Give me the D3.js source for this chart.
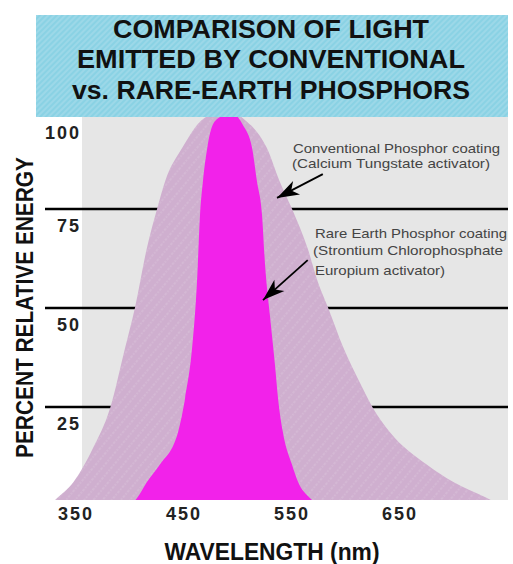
<!DOCTYPE html>
<html><head><meta charset="utf-8">
<script src="https://cdn.jsdelivr.net/npm/d3@7"></script>
<style>html,body{margin:0;padding:0;background:#fff;} svg{display:block;}</style>
</head><body>
<svg id="chart" width="513" height="564"></svg>
<script>
// ---- data ----
const titleLines = ["COMPARISON OF LIGHT", "EMITTED BY CONVENTIONAL", "vs. RARE-EARTH PHOSPHORS"];
const xTicks = [350, 450, 550, 650];
const yTicks = [25, 50, 75, 100];
const gridValues = [25, 50, 75];
const xLabel = "WAVELENGTH (nm)";
const yLabel = "PERCENT RELATIVE ENERGY";

const conventionalWavelength = [325, 333, 348, 366, 382, 396, 405, 416, 425.5, 433, 449, 467, 490, 509, 513, 527, 539, 550.5, 565, 574.5, 584, 598, 613, 625.5, 641, 675.5, 699.5, 731, 745];
const conventionalEnergy     = [0,   2,   6,   14.5, 24.7, 40, 50, 65, 75, 82, 90.5, 97.5, 100, 97, 96, 90.5, 82, 75, 65, 56.5, 50, 40, 31.3, 24.7, 18.7, 10.4, 6.1, 2, 0];

const rareEarthWavelength = [400, 407, 416, 428, 445, 451.5, 458, 462.5, 465.3, 468, 472, 477, 484, 493, 505, 513.5, 518, 522.7, 525.5, 530, 534.7, 537.5, 542, 550.5, 556, 567, 578];
const rareEarthEnergy     = [0,   2,   6,   10.4, 18.7, 27.3, 40, 56.6, 73.5, 82, 90.4, 96.2, 98.3, 99.5, 96.2, 90.4, 82, 73.5, 61, 48.2, 35.6, 27.3, 18.7, 10.4, 6.1, 2, 0];

const conventionalNote = ["Conventional Phosphor coating", "(Calcium Tungstate activator)"];
const rareEarthNote = ["Rare Earth Phosphor coating", "(Strontium Chlorophosphate", "Europium activator)"];

// ---- layout ----
const svg = d3.select("#chart");
const plot = {left: 82, right: 508, top: 117, bottom: 500};
const x = d3.scaleLinear().domain([350, 650]).range([75.5, 399.5]);
const y = d3.scaleLinear().domain([0, 100]).range([506, 110]);

const defs = svg.append("defs");
defs.append("clipPath").attr("id", "plotClip")
  .append("rect").attr("x", 0).attr("y", plot.top).attr("width", 513).attr("height", plot.bottom - plot.top);

const hatch = defs.append("pattern").attr("id", "titleHatch")
  .attr("patternUnits", "userSpaceOnUse").attr("width", 4).attr("height", 4)
  .attr("patternTransform", "rotate(-45)");
hatch.append("rect").attr("width", 4).attr("height", 4).attr("fill", "#8ad2e4");
hatch.append("line").attr("x1", 0).attr("y1", 1).attr("x2", 4).attr("y2", 1)
  .attr("stroke", "#a9dcec").attr("stroke-width", 1.2);

const dots = defs.append("pattern").attr("id", "convHatch")
  .attr("patternUnits", "userSpaceOnUse").attr("width", 7).attr("height", 7)
  .attr("patternTransform", "rotate(-50)");
dots.append("rect").attr("width", 7).attr("height", 7).attr("fill", "#cfafcf");
dots.append("line").attr("x1", 0).attr("y1", 1).attr("x2", 7).attr("y2", 1)
  .attr("stroke", "#dcc6dc").attr("stroke-width", 0.8).attr("stroke-dasharray", "1.5,1.5");

defs.append("marker").attr("id", "arrowHead")
  .attr("viewBox", "-24 -8 26 16").attr("refX", 0).attr("refY", 0)
  .attr("markerWidth", 26).attr("markerHeight", 16).attr("markerUnits", "userSpaceOnUse")
  .attr("orient", "auto")
  .append("path").attr("d", "M0,0 L-22,-7.5 L-16,0 L-22,7.5 Z").attr("fill", "#000");

// background
svg.append("rect").attr("x", plot.left).attr("y", plot.top)
  .attr("width", plot.right - plot.left).attr("height", plot.bottom - plot.top)
  .attr("fill", "#e6e6e6");

// gridlines (under fills)
svg.append("g").selectAll("line").data(gridValues).join("line")
  .attr("x1", 45).attr("x2", plot.right)
  .attr("y1", d => y(d)).attr("y2", d => y(d))
  .attr("stroke", "#000").attr("stroke-width", 2.6);

// areas
const area = d3.area().x(d => x(d[0])).y0(y(0)).y1(d => y(d[1])).curve(d3.curveMonotoneX);
const convData = conventionalWavelength.map((w, i) => [w, conventionalEnergy[i]]);
const rareData = rareEarthWavelength.map((w, i) => [w, rareEarthEnergy[i]]);
const areas = svg.append("g").attr("clip-path", "url(#plotClip)");
areas.append("path").datum(convData).attr("d", area).attr("fill", "url(#convHatch)");
areas.append("path").datum(rareData).attr("d", area).attr("fill", "#f222ea");

// title box
svg.append("rect").attr("x", 36).attr("y", 15).attr("width", 472).attr("height", 102)
  .attr("fill", "url(#titleHatch)");
const titleBase = [38, 68, 99];
const titleLen = [316, 388, 398];
svg.append("g").selectAll("text").data(titleLines).join("text")
  .attr("x", 271).attr("y", (d, i) => titleBase[i])
  .attr("text-anchor", "middle")
  .attr("font-family", "Liberation Sans, Arial, sans-serif")
  .attr("font-weight", "bold").attr("font-size", 25)
  .attr("textLength", (d, i) => titleLen[i]).attr("lengthAdjust", "spacingAndGlyphs")
  .attr("fill", "#111").text(d => d);

// x axis
const xAxis = svg.append("g").attr("transform", `translate(0,${plot.bottom})`)
  .call(d3.axisBottom(x).tickValues(xTicks).tickSize(0).tickPadding(20).tickFormat(d3.format("d")));
xAxis.select(".domain").remove();
xAxis.selectAll("text")
  .attr("font-family", "Liberation Sans, Arial, sans-serif")
  .attr("font-weight", "bold").attr("font-size", 18).attr("fill", "#222")
  .attr("letter-spacing", 2).attr("dy", 0);

// y axis labels (below each line)
const yAxis = svg.append("g").attr("transform", `translate(81,0)`)
  .call(d3.axisLeft(y).tickValues(yTicks).tickSize(0).tickPadding(0).tickFormat(d3.format("d")));
yAxis.select(".domain").remove();
yAxis.selectAll("text")
  .attr("font-family", "Liberation Sans, Arial, sans-serif")
  .attr("font-weight", "bold").attr("font-size", 18).attr("fill", "#222")
  .attr("letter-spacing", 2)
  .attr("dy", d => d === 100 ? 28 : 22);

// axis titles
svg.append("text").attr("x", 272).attr("y", 560)
  .attr("text-anchor", "middle")
  .attr("font-family", "Liberation Sans, Arial, sans-serif")
  .attr("font-weight", "bold").attr("font-size", 23)
  .attr("textLength", 215).attr("lengthAdjust", "spacingAndGlyphs")
  .attr("fill", "#111").text(xLabel);
svg.append("text").attr("transform", "translate(33,307.5) rotate(-90)")
  .attr("text-anchor", "middle")
  .attr("font-family", "Liberation Sans, Arial, sans-serif")
  .attr("font-weight", "bold").attr("font-size", 23)
  .attr("textLength", 301).attr("lengthAdjust", "spacingAndGlyphs")
  .attr("fill", "#111").text(yLabel);

// annotations
const noteStyle = sel => sel.attr("font-family", "Liberation Sans, Arial, sans-serif")
  .attr("font-size", 13).attr("fill", "#444").attr("lengthAdjust", "spacingAndGlyphs");
const convPos = [{x: 293, y: 153, w: 207}, {x: 292, y: 168, w: 198}];
svg.append("g").selectAll("text").data(conventionalNote).join("text")
  .call(noteStyle)
  .attr("x", (d, i) => convPos[i].x).attr("y", (d, i) => convPos[i].y)
  .attr("textLength", (d, i) => convPos[i].w).text(d => d);
const rarePos = [{x: 315, y: 238, w: 192}, {x: 313, y: 255, w: 190}, {x: 315, y: 275, w: 130}];
svg.append("g").selectAll("text").data(rareEarthNote).join("text")
  .call(noteStyle)
  .attr("x", (d, i) => rarePos[i].x).attr("y", (d, i) => rarePos[i].y)
  .attr("textLength", (d, i) => rarePos[i].w).text(d => d);

// arrows (in data coordinates: wavelength, energy)
const arrows = [
  {from: [579, 83.8], to: [536.6, 77.8]},
  {from: [565, 62.1], to: [523.6, 52]}
];
svg.append("g").selectAll("line").data(arrows).join("line")
  .attr("x1", d => x(d.from[0])).attr("y1", d => y(d.from[1]))
  .attr("x2", d => x(d.to[0])).attr("y2", d => y(d.to[1]))
  .attr("stroke", "#000").attr("stroke-width", 1.8)
  .attr("marker-end", "url(#arrowHead)");
</script>
</body></html>
